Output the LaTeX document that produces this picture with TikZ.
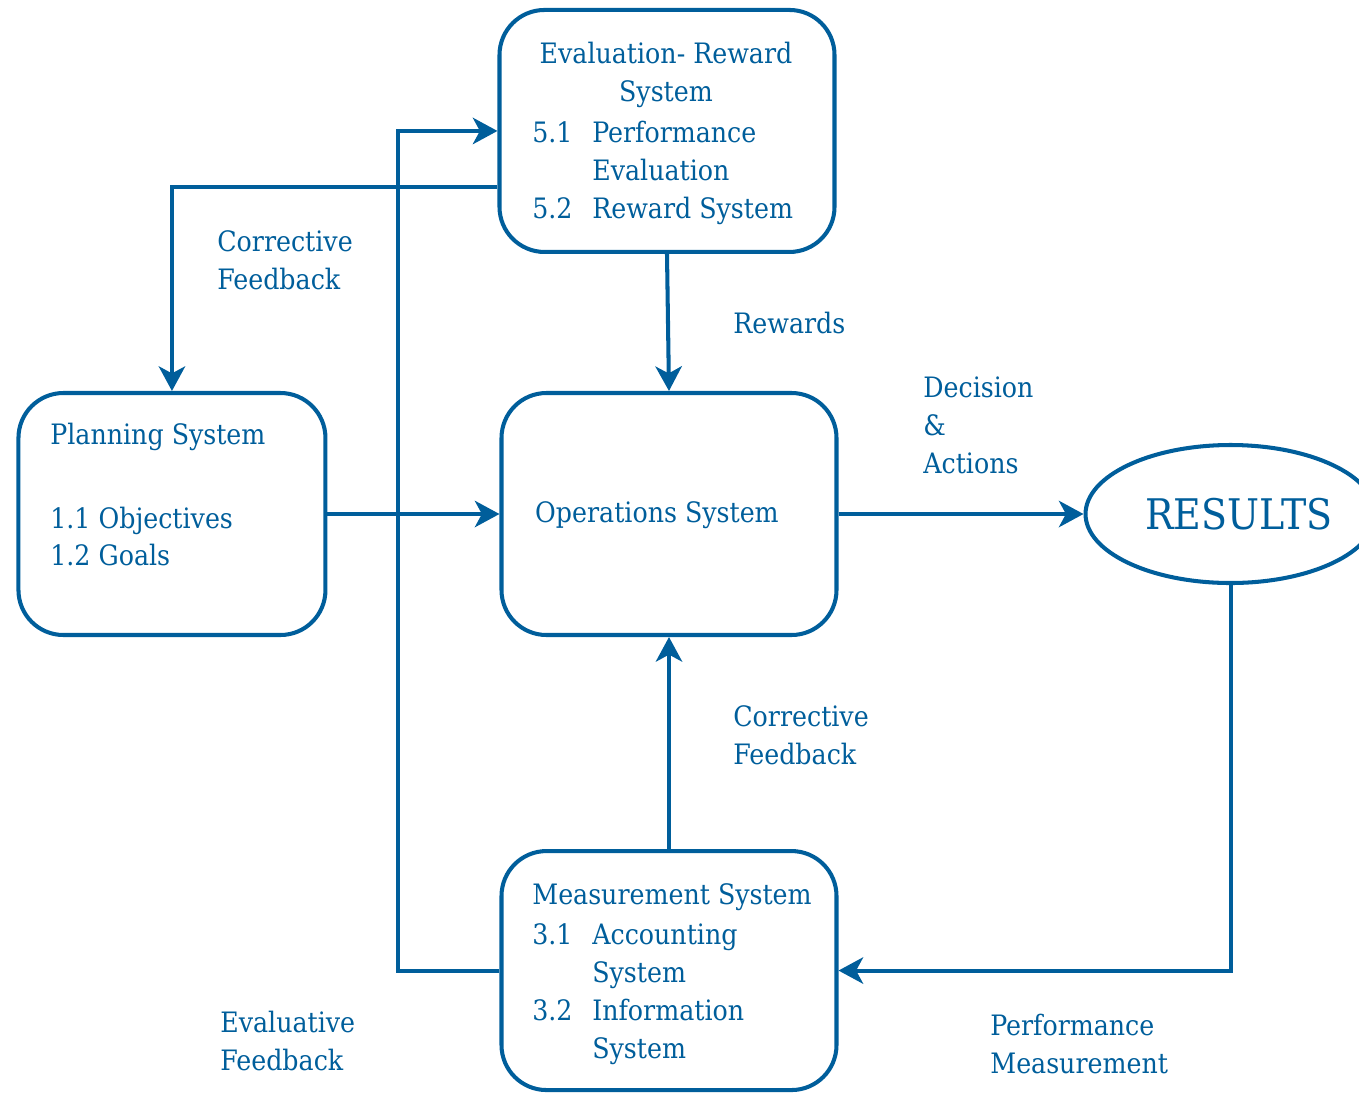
\documentclass[tikz,border=0pt]{standalone}
\usepackage{fontspec}
\setmainfont{DejaVu Serif Condensed}
\usepackage{tikz}
\usetikzlibrary{positioning, calc}
\usetikzlibrary{arrows.meta, shapes.geometric}
\definecolor{flowblue}{RGB}{0,94,155}
\tikzstyle{sysbox}=[rectangle,rounded corners=0.9cm,line width=2.3pt,draw=flowblue,
minimum width=6.7cm,minimum height=4.84cm]
\tikzstyle{textbox}=[inner sep=0pt,text=flowblue,align=left,
font=\fontsize{16}{21.6}\selectfont]
\tikzstyle{edgepath} = [-{Stealth[length=14pt,width=15pt,inset=4pt]},line width=2.3pt,
color=flowblue]

\begin{document}
\begin{tikzpicture}
        \useasboundingbox (0,0) rectangle (27.18,-21.84);
        % the five systems
        \node[sysbox] (ops) at (13.38,-10.28) {};
        \node[sysbox, above=2.74cm of ops, xshift=-0.04cm] (eval) {};
        \node[sysbox, minimum height=4.78cm, below=4.24cm of ops] (meas) {};
        \node[sysbox, minimum width=6.14cm, left=3.44cm of ops] (plan) {};
        \node[ellipse, line width=2.3pt, draw=flowblue, minimum width=5.8cm,
            minimum height=2.76cm, right=4.9cm of ops] (res) {};

        % box texts
        \node[textbox, align=center] (evalhead) at (13.32,-1.5)
            {Evaluation- Reward\\System};
        \node[textbox, anchor=west] (evallist) at (10.64,-3.46)
            {\begin{tabular}{@{}p{1.2cm}@{}l@{}}
            5.1 & Performance\\ & Evaluation\\ 5.2 & Reward System
            \end{tabular}};
        \node[textbox, anchor=west] (planhead) at (1.0,-8.74) {Planning System};
        \node[textbox, anchor=west] (planlist) at (1.0,-10.73)
            {1.1 Objectives\\1.2 Goals};
        \node[textbox] (opshead) at (13.14,-10.3) {Operations System};
        \node[textbox, anchor=west] (meashead) at (10.64,-17.94)
            {Measurement System};
        \node[textbox, anchor=west] (measlist) at (10.64,-19.87)
            {\begin{tabular}{@{}p{1.2cm}@{}l@{}}
            3.1 & Accounting\\ & System\\ 3.2 & Information\\ & System
            \end{tabular}};
        \node[textbox, font=\fontsize{24}{28}\selectfont] (reshead)
            at (24.78,-10.28) {RESULTS};

        % flow labels
        \node[textbox, anchor=west] (fbtop) at (4.34,-5.2) {Corrective\\Feedback};
        \node[textbox, anchor=west] (rew) at (14.66,-6.46) {Rewards};
        \node[textbox, anchor=west] (dec) at (18.46,-8.5) {Decision\\\&\\Actions};
        \node[textbox, anchor=west] (fbbot) at (14.66,-14.71) {Corrective\\Feedback};
        \node[textbox, anchor=west] (evfb) at (4.4,-20.82) {Evaluative\\Feedback};
        \node[textbox, anchor=west] (perf) at (19.8,-20.88)
            {Performance\\Measurement};

        \coordinate (loop) at (7.96,0);

        \path[edgepath]
            (plan) edge (ops)
            (eval.south) edge (ops.north)
            (ops.east) edge (res.west)
            (meas.north) edge (ops.south);
        \draw[edgepath]
            ($(eval.west)+(0,-1.12)$) -| (plan.north);
        \draw[edgepath]
            (res.south) |- (meas.east);
        \draw[edgepath]
            (meas.west) -- (meas.west -| loop) |- (eval.west);
    \end{tikzpicture}
\end{document}
